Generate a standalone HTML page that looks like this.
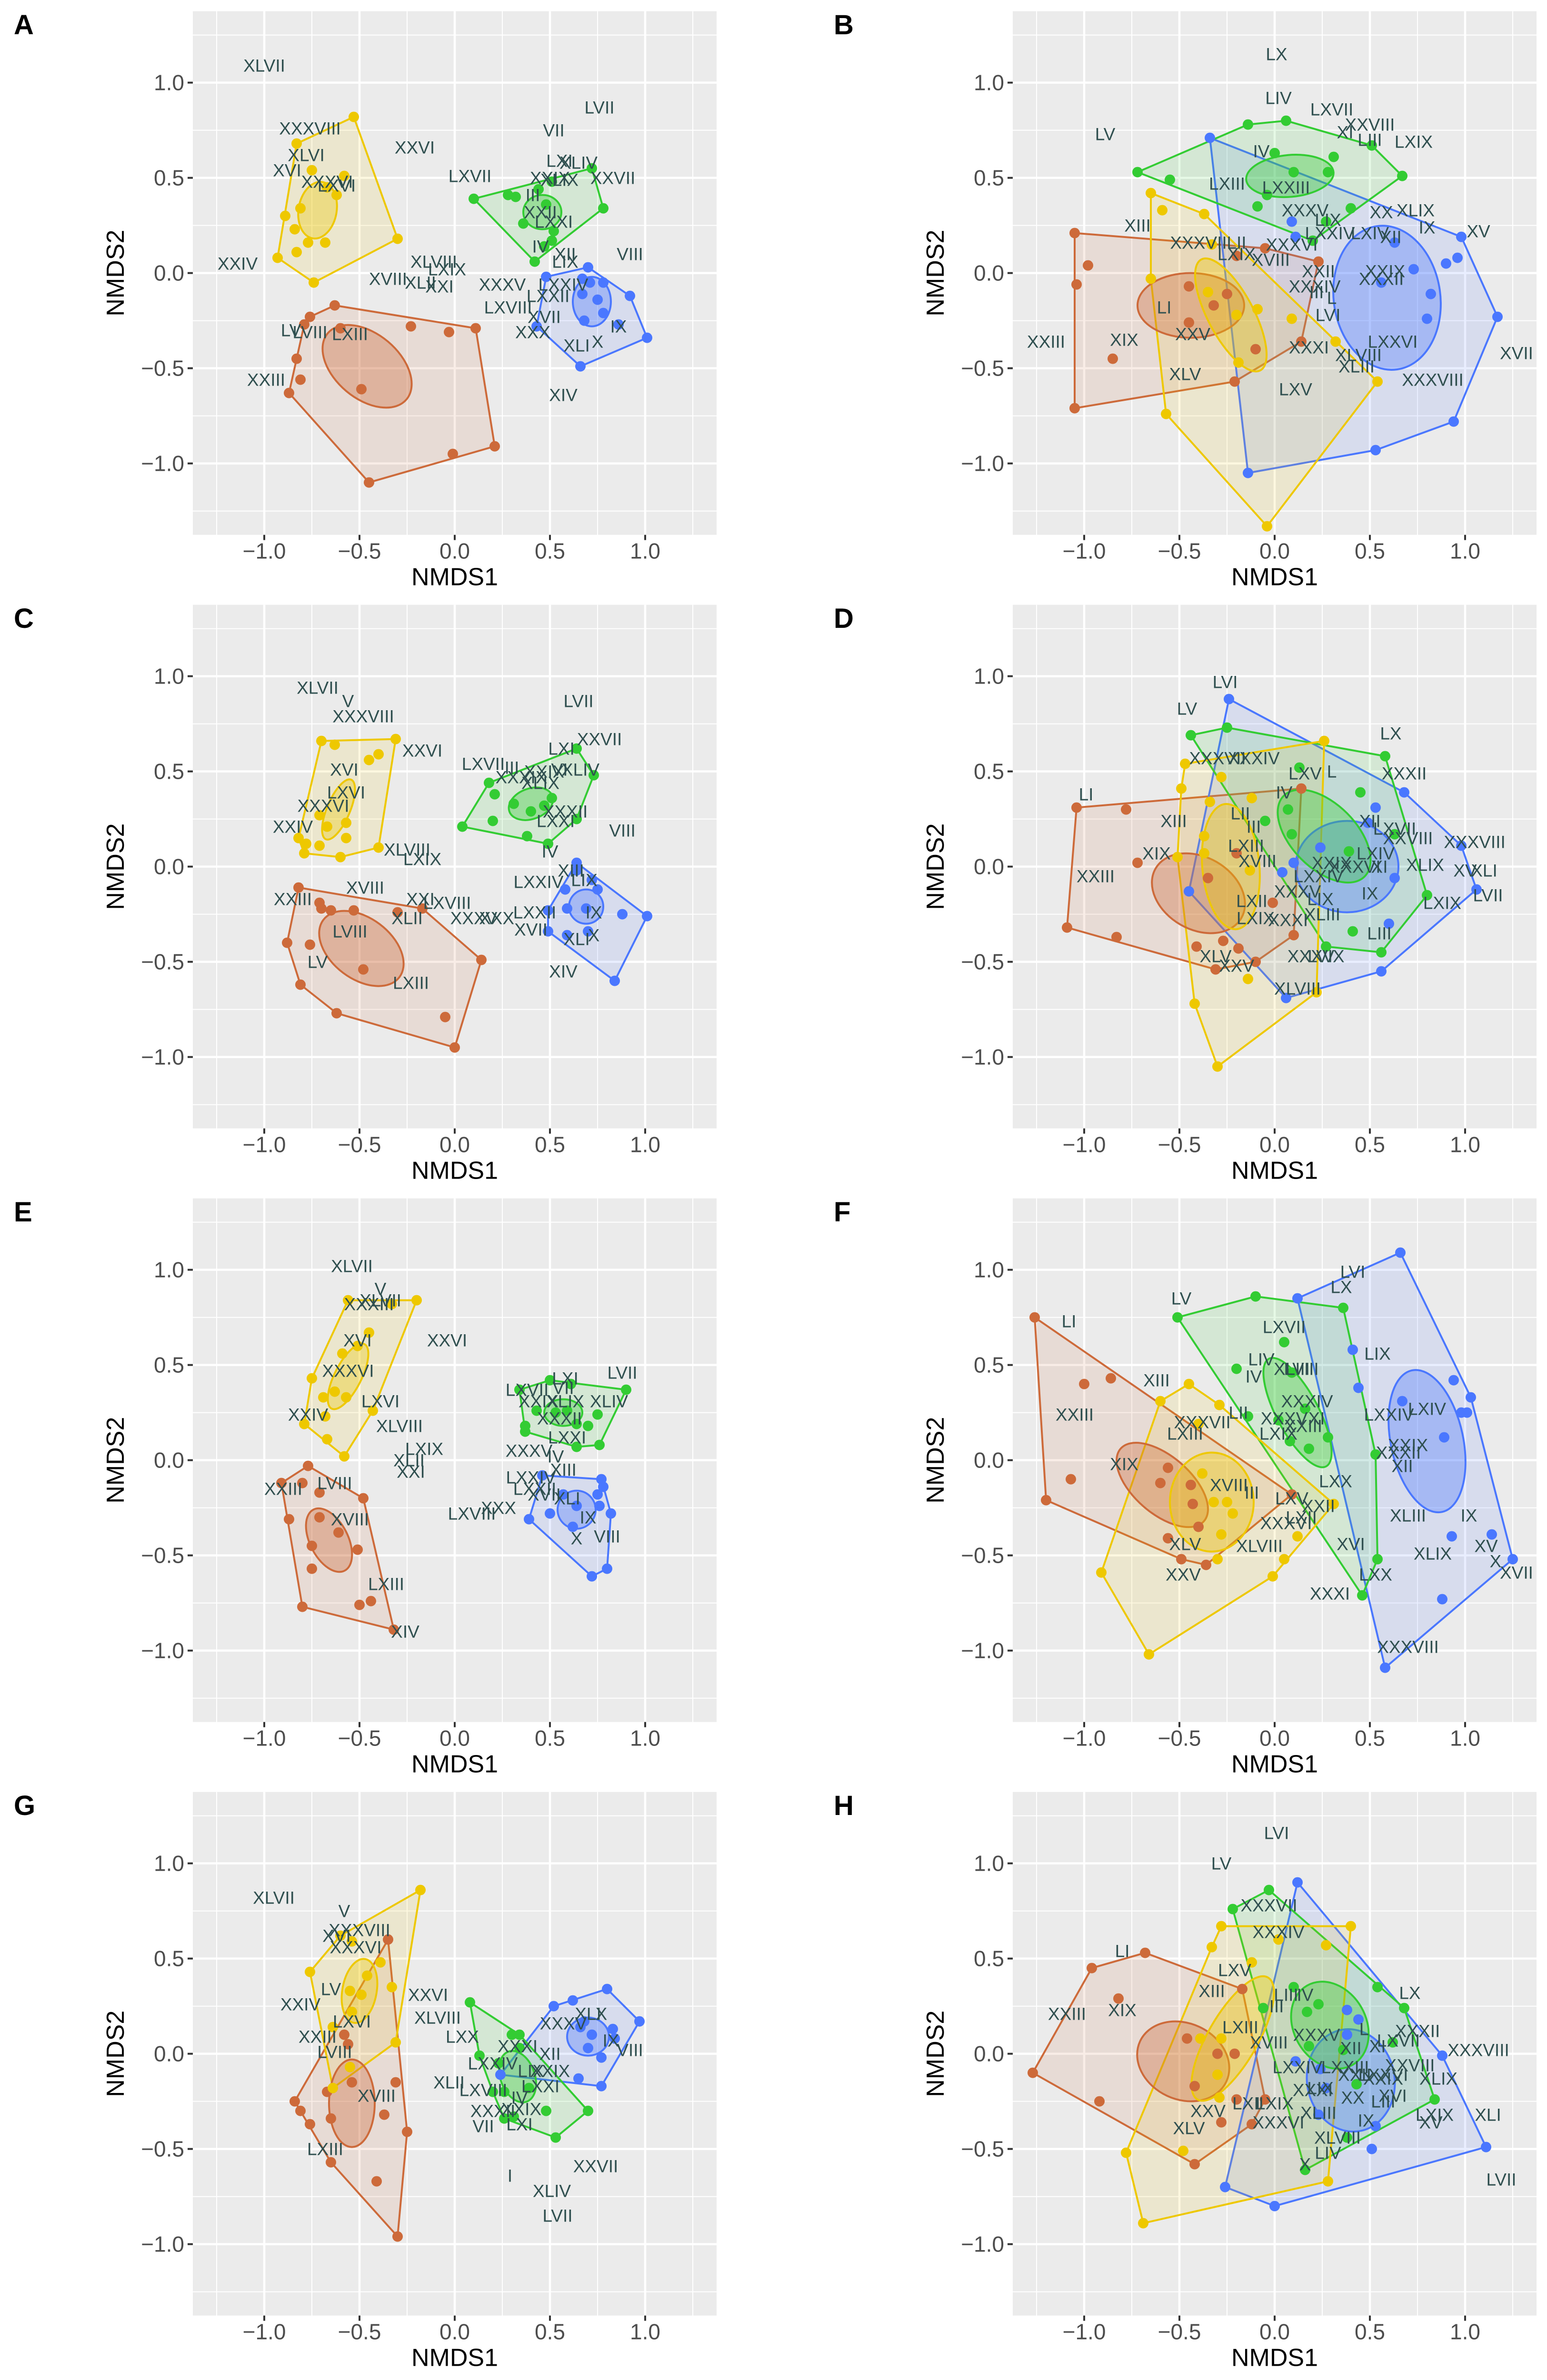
<!DOCTYPE html>
<html><head><meta charset="utf-8"><title>NMDS seasonal panels</title>
<style>
html,body{margin:0;padding:0;background:#fff;width:3249px;height:5083px;overflow:hidden;}
svg{display:block;position:absolute;left:0;top:0;font-family:"Liberation Sans",Arial,sans-serif;}
</style></head>
<body>
<svg id="fig" xmlns="http://www.w3.org/2000/svg" width="3249" height="5083" viewBox="0 0 3249 5083">
<rect x="0" y="0" width="3249" height="5083" fill="#ffffff"/>
</svg>
<script>
// ===== DATA (NMDS1, NMDS2) =====
const A_autumn=[[-0.63,-0.17],[0.11,-0.29],[0.21,-0.91],[-0.45,-1.10],[-0.87,-0.63],[-0.83,-0.45],[-0.79,-0.27],[-0.76,-0.23],[-0.60,-0.29],[-0.23,-0.28],[-0.03,-0.31],[-0.81,-0.56],[-0.49,-0.61],[-0.01,-0.95]];
const A_winter=[[0.48,-0.02],[0.70,0.03],[0.92,-0.12],[1.01,-0.34],[0.66,-0.49],[0.43,-0.28],[0.67,-0.03],[0.71,-0.05],[0.78,-0.05],[0.67,-0.11],[0.75,-0.14],[0.78,-0.21],[0.68,-0.25],[0.86,-0.27]];
const A_spring=[[0.10,0.39],[0.72,0.55],[0.78,0.34],[0.42,0.06],[0.28,0.41],[0.32,0.40],[0.48,0.36],[0.36,0.26],[0.52,0.22],[0.51,0.17],[0.47,0.14],[0.51,0.48],[0.44,0.44]];
const A_summer=[[-0.53,0.82],[-0.83,0.68],[-0.93,0.08],[-0.74,-0.05],[-0.30,0.18],[-0.75,0.54],[-0.58,0.51],[-0.62,0.41],[-0.81,0.34],[-0.89,0.30],[-0.84,0.23],[-0.77,0.16],[-0.68,0.16],[-0.83,0.11],[-0.67,0.45]];
const A_ell={autumn:[-0.46,-0.49,0.27,0.17,40],winter:[0.72,-0.15,0.10,0.13,0],spring:[0.46,0.32,0.10,0.09,0],summer:[-0.72,0.33,0.10,0.15,10]};
const A_labels=[["XLVII",-1.0,1.09],["LVII",0.76,0.87],["VII",0.52,0.75],["XXXVIII",-0.76,0.76],["XXVI",-0.21,0.66],["XLVI",-0.78,0.62],["LXI",0.55,0.59],["XLIV",0.65,0.58],["XVI",-0.88,0.54],["LXVII",0.08,0.51],["XXVII",0.83,0.50],["XXXVI",-0.67,0.48],["LXVI",-0.62,0.46],["XXIX",0.50,0.50],["XLIX",0.55,0.49],["III",0.41,0.41],["XXII",0.45,0.32],["LXXI",0.52,0.27],["IV",0.45,0.14],["XII",0.58,0.10],["LIX",0.58,0.06],["VIII",0.92,0.10],["XXIV",-1.14,0.05],["XLVIII",-0.11,0.06],["LXIX",-0.04,0.02],["XVIII",-0.35,-0.03],["XLII",-0.18,-0.05],["XXI",-0.08,-0.07],["XXXV",0.25,-0.06],["LXXIV",0.57,-0.06],["LXXII",0.49,-0.12],["LXVIII",0.28,-0.18],["XVII",0.47,-0.23],["XXX",0.41,-0.31],["LV",-0.86,-0.30],["LVIII",-0.76,-0.31],["LXIII",-0.55,-0.32],["XLI",0.64,-0.38],["X",0.75,-0.36],["IX",0.86,-0.28],["XIV",0.57,-0.64],["XXIII",-0.99,-0.56]];

const B_autumn=[[-1.05,0.21],[0.23,0.06],[0.14,-0.36],[-0.21,-0.57],[-1.05,-0.71],[-0.98,0.04],[-1.04,-0.06],[-0.85,-0.45],[-0.45,-0.07],[-0.25,-0.11],[-0.32,-0.17],[-0.45,-0.26],[-0.20,0.09],[-0.05,0.13],[-0.10,-0.40]];
const B_winter=[[-0.34,0.71],[0.98,0.19],[1.17,-0.23],[0.94,-0.78],[0.53,-0.93],[-0.14,-1.05],[0.09,0.27],[0.11,0.19],[0.63,0.16],[0.73,0.02],[0.90,0.05],[0.96,0.08],[0.82,-0.11],[0.80,-0.24],[0.56,-0.05]];
const B_spring=[[-0.72,0.53],[-0.14,0.78],[0.06,0.80],[0.51,0.67],[0.67,0.51],[0.20,0.17],[-0.55,0.49],[0.0,0.63],[0.31,0.61],[0.28,0.53],[0.10,0.53],[-0.04,0.41],[-0.09,0.35],[0.40,0.34],[0.27,0.27]];
const B_summer=[[-0.65,0.42],[-0.37,0.31],[0.54,-0.57],[-0.04,-1.33],[-0.57,-0.74],[-0.65,-0.03],[-0.59,0.33],[-0.33,0.15],[-0.35,-0.10],[-0.20,-0.22],[-0.09,-0.19],[0.09,-0.24],[0.32,-0.36],[-0.19,-0.47]];
const B_ell={autumn:[-0.44,-0.17,0.28,0.17,0],winter:[0.59,-0.13,0.28,0.38,-8],spring:[0.08,0.51,0.23,0.11,-5],summer:[-0.23,-0.22,0.33,0.12,62]};
const B_labels=[["LX",0.01,1.15],["LIV",0.02,0.92],["LXVII",0.30,0.86],["LV",-0.89,0.73],["XXVIII",0.50,0.78],["XI",0.37,0.74],["LIII",0.50,0.70],["LXIX",0.73,0.69],["IV",-0.07,0.64],["LXIII",-0.25,0.47],["LXXIII",0.06,0.45],["XXXV",0.16,0.33],["XX",0.56,0.32],["XLIX",0.74,0.33],["LIX",0.28,0.28],["XIII",-0.72,0.25],["IX",0.80,0.24],["XV",1.07,0.22],["LXXIV",0.29,0.21],["LXIV",0.50,0.21],["XII",0.61,0.19],["XXXVII",-0.40,0.16],["LII",-0.20,0.16],["XXXVI",0.09,0.15],["LXIX",-0.20,0.10],["XVIII",-0.02,0.07],["XXII",0.23,0.01],["XXIX",0.58,0.01],["XXXII",0.56,-0.03],["XXXIV",0.21,-0.07],["III",0.22,-0.10],["L",0.30,-0.13],["LI",-0.58,-0.18],["LVI",0.28,-0.22],["XXIII",-1.20,-0.36],["XIX",-0.79,-0.35],["XXV",-0.43,-0.32],["XXXI",0.18,-0.39],["LXXVI",0.62,-0.36],["XLVIII",0.44,-0.43],["XLIII",0.43,-0.49],["XLV",-0.47,-0.53],["LXV",0.11,-0.61],["XXXVIII",0.83,-0.56],["XVII",1.27,-0.42]];

const C_autumn=[[-0.82,-0.11],[-0.17,-0.22],[0.14,-0.49],[0.0,-0.95],[-0.62,-0.77],[-0.81,-0.62],[-0.88,-0.40],[-0.71,-0.19],[-0.70,-0.22],[-0.65,-0.23],[-0.53,-0.23],[-0.30,-0.24],[-0.76,-0.41],[-0.48,-0.54],[-0.05,-0.79]];
const C_winter=[[0.64,0.02],[0.75,-0.12],[1.01,-0.26],[0.84,-0.60],[0.59,-0.36],[0.49,-0.34],[0.49,-0.23],[0.64,-0.02],[0.72,-0.07],[0.58,-0.12],[0.59,-0.22],[0.69,-0.22],[0.88,-0.25],[0.70,-0.34]];
const C_spring=[[0.18,0.44],[0.64,0.62],[0.73,0.48],[0.64,0.25],[0.49,0.12],[0.04,0.21],[0.21,0.38],[0.31,0.33],[0.40,0.29],[0.47,0.32],[0.51,0.36],[0.20,0.24],[0.38,0.16]];
const C_summer=[[-0.70,0.66],[-0.31,0.67],[-0.40,0.10],[-0.60,0.05],[-0.79,0.07],[-0.82,0.15],[-0.63,0.64],[-0.45,0.56],[-0.40,0.59],[-0.71,0.27],[-0.67,0.21],[-0.57,0.23],[-0.57,0.15],[-0.71,0.11],[-0.78,0.12]];
const C_ell={autumn:[-0.49,-0.43,0.25,0.16,37],winter:[0.69,-0.21,0.09,0.09,0],spring:[0.40,0.33,0.12,0.08,-20],summer:[-0.61,0.30,0.17,0.06,-67]};
const C_labels=[["XLVII",-0.72,0.94],["V",-0.56,0.87],["XXXVIII",-0.48,0.79],["LVII",0.65,0.87],["XXVII",0.76,0.67],["LXI",0.56,0.62],["XXVI",-0.17,0.61],["LXVII",0.15,0.54],["III",0.30,0.52],["VI",0.55,0.51],["XLIV",0.66,0.51],["XXXIX",0.35,0.47],["XXIX",0.47,0.50],["XLIX",0.45,0.44],["XVI",-0.58,0.51],["LXVI",-0.57,0.39],["XXXVI",-0.69,0.32],["XXXII",0.58,0.29],["LXXI",0.53,0.24],["XXIV",-0.85,0.21],["VIII",0.88,0.19],["XLVIII",-0.25,0.09],["LXIX",-0.17,0.04],["IV",0.50,0.08],["XIII",0.61,-0.02],["LXXIV",0.44,-0.08],["LIX",0.68,-0.07],["XVIII",-0.47,-0.11],["XXIII",-0.85,-0.17],["XXI",-0.18,-0.17],["LXVIII",-0.04,-0.19],["XLII",-0.25,-0.27],["XXXV",0.10,-0.27],["XXX",0.22,-0.27],["LXXII",0.42,-0.24],["IX",0.73,-0.24],["XVII",0.40,-0.33],["XLI",0.64,-0.38],["X",0.73,-0.36],["LVIII",-0.55,-0.34],["LV",-0.72,-0.50],["LXIII",-0.23,-0.61],["XIV",0.57,-0.55]];

const D_autumn=[[-1.04,0.31],[-0.78,0.30],[0.14,0.41],[0.10,-0.36],[-0.10,-0.50],[-0.31,-0.54],[-1.09,-0.32],[-0.72,0.02],[-0.83,-0.37],[-0.41,-0.42],[-0.27,-0.39],[-0.19,-0.43],[-0.01,-0.19],[-0.20,0.07],[-0.35,-0.06]];
const D_winter=[[-0.24,0.88],[0.68,0.39],[0.98,0.11],[1.06,-0.12],[0.56,-0.55],[0.06,-0.69],[-0.45,-0.13],[0.53,0.31],[0.49,0.23],[0.24,0.10],[0.10,0.02],[0.04,-0.03],[0.63,-0.06],[0.60,-0.30]];
const D_spring=[[-0.44,0.69],[-0.25,0.73],[0.58,0.58],[0.80,-0.15],[0.56,-0.45],[0.27,-0.42],[0.13,0.52],[0.45,0.39],[0.07,0.30],[-0.05,0.24],[0.09,0.17],[0.63,0.17],[0.39,0.08],[0.41,-0.34]];
const D_summer=[[-0.47,0.54],[0.26,0.66],[0.22,-0.66],[-0.30,-1.05],[-0.42,-0.72],[-0.49,0.41],[-0.28,0.47],[-0.34,0.34],[-0.12,0.36],[-0.37,0.16],[-0.37,0.07],[-0.51,0.05],[-0.13,-0.02],[-0.14,-0.59]];
const D_ell={autumn:[-0.40,-0.14,0.26,0.19,30],winter:[0.38,0.0,0.27,0.24,0],spring:[0.26,0.16,0.30,0.17,45],summer:[-0.23,0.0,0.15,0.33,-5]};
const D_labels=[["LVI",-0.26,0.97],["LV",-0.46,0.83],["LX",0.61,0.70],["XXXVII",-0.30,0.57],["XXXIV",-0.11,0.57],["XXXII",0.68,0.49],["LXV",0.16,0.49],["L",0.30,0.50],["LI",-0.99,0.38],["IV",0.05,0.39],["XIII",-0.53,0.24],["LII",-0.18,0.28],["III",-0.11,0.21],["XII",0.50,0.24],["LXVII",0.63,0.20],["XXVIII",0.70,0.15],["XXXVIII",1.05,0.13],["LXIII",-0.15,0.11],["XIX",-0.62,0.07],["XVIII",-0.09,0.03],["LXIV",0.53,0.07],["XXIX",0.30,0.02],["XXXVI",0.42,0.0],["XI",0.55,0.0],["XLIX",0.79,0.01],["XV",1.0,-0.02],["XLI",1.10,-0.02],["XXIII",-0.94,-0.05],["LXXIV",0.23,-0.05],["XXXV",0.12,-0.13],["IX",0.50,-0.14],["LIX",0.24,-0.17],["LXII",-0.12,-0.18],["LXIX",0.88,-0.19],["LVII",1.12,-0.15],["XLIII",0.25,-0.25],["LXIX",-0.10,-0.27],["XXXI",0.07,-0.28],["LIII",0.55,-0.35],["XLV",-0.31,-0.47],["XXXV",0.19,-0.47],["LVIX",0.27,-0.47],["XXV",-0.20,-0.52],["XLVIII",0.12,-0.64]];

const E_autumn=[[-0.77,-0.03],[-0.48,-0.20],[-0.32,-0.89],[-0.80,-0.77],[-0.87,-0.31],[-0.91,-0.12],[-0.80,-0.12],[-0.71,-0.17],[-0.71,-0.30],[-0.61,-0.38],[-0.75,-0.45],[-0.51,-0.47],[-0.75,-0.57],[-0.50,-0.76],[-0.44,-0.74]];
const E_winter=[[0.46,-0.08],[0.77,-0.10],[0.78,-0.14],[0.82,-0.28],[0.80,-0.57],[0.72,-0.61],[0.39,-0.31],[0.50,-0.28],[0.57,-0.18],[0.64,-0.24],[0.75,-0.18],[0.76,-0.24],[0.62,-0.35]];
const E_spring=[[0.34,0.37],[0.50,0.42],[0.61,0.40],[0.90,0.37],[0.76,0.08],[0.64,0.07],[0.37,0.15],[0.37,0.18],[0.43,0.26],[0.53,0.25],[0.64,0.19],[0.70,0.18],[0.75,0.24],[0.59,0.26]];
const E_summer=[[-0.56,0.84],[-0.20,0.84],[-0.43,0.26],[-0.58,0.02],[-0.79,0.19],[-0.75,0.43],[-0.33,0.82],[-0.45,0.67],[-0.51,0.60],[-0.59,0.56],[-0.63,0.36],[-0.69,0.33],[-0.57,0.33],[-0.68,0.23],[-0.67,0.11]];
const E_ell={autumn:[-0.66,-0.42,0.18,0.10,63],winter:[0.64,-0.26,0.10,0.10,0],spring:[0.57,0.25,0.10,0.07,0],summer:[-0.56,0.44,0.19,0.07,-63]};
const E_labels=[["XLVII",-0.54,1.02],["V",-0.39,0.90],["XLVII",-0.39,0.84],["XXXIII",-0.45,0.82],["XXVI",-0.04,0.63],["XVI",-0.51,0.63],["XXXVI",-0.56,0.47],["LVII",0.88,0.46],["LXI",0.58,0.43],["LXVII",0.38,0.37],["VII",0.57,0.38],["LXVI",-0.39,0.31],["XXIX",0.44,0.31],["XLIX",0.58,0.31],["XLIV",0.81,0.31],["XXXII",0.55,0.22],["XXIV",-0.77,0.24],["XLVIII",-0.29,0.18],["LXXI",0.59,0.12],["LXIX",-0.16,0.06],["XXXV",0.39,0.05],["IV",0.53,0.02],["XLII",-0.24,0.0],["XXI",-0.23,-0.06],["XIII",0.57,-0.05],["LXXIV",0.40,-0.09],["LXXII",0.42,-0.15],["LVIII",-0.63,-0.12],["XXIII",-0.90,-0.15],["XVII",0.47,-0.18],["XLI",0.59,-0.20],["XXX",0.23,-0.25],["LXVIII",0.09,-0.28],["IX",0.70,-0.30],["XVIII",-0.55,-0.31],["X",0.64,-0.41],["VIII",0.80,-0.40],["LXIII",-0.36,-0.65],["XIV",-0.26,-0.90]];

const F_autumn=[[-1.26,0.75],[0.09,-0.18],[-0.36,-0.55],[-0.49,-0.52],[-1.20,-0.21],[-1.0,0.40],[-0.86,0.43],[-1.07,-0.10],[-0.60,-0.12],[-0.44,-0.13],[-0.43,-0.23],[-0.40,-0.35],[-0.56,-0.41],[-0.56,-0.04]];
const F_winter=[[0.12,0.85],[0.66,1.09],[1.25,-0.52],[0.58,-1.09],[0.41,0.58],[0.44,0.38],[0.67,0.31],[0.94,0.42],[1.03,0.33],[0.98,0.25],[1.01,0.25],[0.89,0.12],[0.93,-0.40],[1.14,-0.39],[0.88,-0.73]];
const F_spring=[[-0.51,0.75],[-0.10,0.86],[0.36,0.80],[0.53,0.03],[0.54,-0.52],[0.46,-0.71],[0.05,0.62],[-0.20,0.48],[-0.14,0.23],[0.02,0.21],[0.16,0.27],[0.08,0.10],[0.18,0.06],[0.28,0.12],[0.09,0.46]];
const F_summer=[[-0.45,0.40],[0.31,-0.23],[0.05,-0.52],[-0.01,-0.61],[-0.66,-1.02],[-0.91,-0.59],[-0.60,0.31],[-0.29,0.29],[-0.40,0.19],[-0.38,-0.07],[-0.32,-0.22],[-0.25,-0.22],[-0.22,-0.28],[-0.28,-0.39],[-0.30,-0.52],[0.12,-0.40]];
const F_ell={autumn:[-0.59,-0.13,0.29,0.15,41],winter:[0.80,0.10,0.19,0.38,-12],spring:[0.12,0.25,0.32,0.11,62],summer:[-0.33,-0.22,0.22,0.26,0]};
const F_labels=[["LVI",0.41,0.99],["LX",0.35,0.91],["LV",-0.49,0.85],["LI",-1.08,0.73],["LXVII",0.05,0.70],["LIX",0.54,0.56],["LIV",-0.07,0.53],["XLIII",0.09,0.48],["LVIII",0.14,0.48],["IV",-0.11,0.44],["XIII",-0.62,0.42],["XXXIV",0.17,0.31],["LXIV",0.80,0.27],["XXIII",-1.05,0.24],["LXXIV",0.60,0.24],["LII",-0.19,0.25],["XXXV",0.05,0.22],["XXXVII",-0.38,0.20],["XI",0.22,0.22],["LXIII",-0.47,0.14],["LXIX",0.02,0.14],["XXIII",0.15,0.18],["XXIX",0.70,0.08],["XXXII",0.65,0.04],["XII",0.67,-0.03],["XIX",-0.79,-0.02],["LXX",0.32,-0.11],["XVIII",-0.24,-0.13],["III",-0.12,-0.17],["LXV",0.09,-0.20],["XXII",0.23,-0.24],["XLIII",0.70,-0.29],["IX",1.02,-0.29],["LXII",0.14,-0.30],["XXXVI",0.06,-0.33],["XLV",-0.47,-0.44],["XLVIII",-0.08,-0.45],["XVI",0.40,-0.44],["XV",1.11,-0.45],["XLIX",0.83,-0.49],["X",1.16,-0.53],["XXV",-0.48,-0.60],["LXX",0.53,-0.60],["XVII",1.27,-0.59],["XXXI",0.29,-0.70],["XXXVIII",0.70,-0.98]];

const G_autumn=[[-0.35,0.60],[-0.25,-0.41],[-0.30,-0.96],[-0.65,-0.57],[-0.84,-0.25],[-0.58,0.10],[-0.56,0.05],[-0.67,-0.20],[-0.54,-0.15],[-0.31,-0.15],[-0.81,-0.30],[-0.76,-0.37],[-0.65,-0.34],[-0.37,-0.32],[-0.41,-0.67]];
const G_winter=[[0.80,0.34],[0.97,0.17],[0.77,-0.17],[0.24,-0.11],[0.52,0.25],[0.62,0.28],[0.66,0.14],[0.68,0.17],[0.72,0.10],[0.83,0.13],[0.70,0.03],[0.77,-0.02],[0.84,0.08],[0.65,-0.13]];
const G_spring=[[0.08,0.27],[0.34,0.10],[0.70,-0.30],[0.53,-0.44],[0.26,-0.34],[0.13,-0.01],[0.30,0.10],[0.34,0.03],[0.23,-0.05],[0.39,-0.18],[0.26,-0.20],[0.20,-0.20],[0.48,-0.30],[0.31,-0.33]];
const G_summer=[[-0.18,0.86],[-0.31,0.06],[-0.64,-0.18],[-0.76,0.43],[-0.60,0.62],[-0.54,0.59],[-0.39,0.48],[-0.46,0.41],[-0.55,0.33],[-0.49,0.31],[-0.33,0.35],[-0.54,0.22],[-0.64,0.14],[-0.55,-0.07]];
const G_ell={autumn:[-0.54,-0.26,0.12,0.23,0],winter:[0.70,0.09,0.11,0.10,0],spring:[0.33,-0.12,0.09,0.14,-20],summer:[-0.50,0.33,0.09,0.17,10]};
const G_labels=[["XLVII",-0.95,0.82],["V",-0.58,0.75],["XXXVIII",-0.50,0.65],["XVI",-0.62,0.62],["XXXVI",-0.52,0.56],["LV",-0.65,0.34],["XXVI",-0.14,0.31],["XXIV",-0.81,0.26],["XLVIII",-0.09,0.19],["XLI",0.70,0.21],["X",0.77,0.21],["XXXV",0.57,0.16],["LXVI",-0.54,0.17],["XXIII",-0.72,0.09],["LXX",0.04,0.09],["XXXI",0.33,0.04],["IX",0.82,0.07],["VIII",0.92,0.02],["LVIII",-0.63,0.01],["XII",0.50,0.0],["LXXIV",0.20,-0.05],["LIX",0.40,-0.09],["XXIX",0.50,-0.09],["XLII",-0.03,-0.15],["LXVIII",0.15,-0.19],["LXXI",0.45,-0.17],["XVIII",-0.41,-0.22],["IV",0.34,-0.23],["XXIX",0.35,-0.29],["XXXII",0.20,-0.30],["VII",0.15,-0.38],["LXI",0.34,-0.37],["LXIII",-0.68,-0.50],["XXVII",0.74,-0.59],["I",0.29,-0.64],["XLIV",0.51,-0.72],["LVII",0.54,-0.85]];

const H_autumn=[[-1.27,-0.10],[-0.96,0.45],[-0.68,0.53],[-0.17,0.34],[-0.05,-0.24],[-0.12,-0.37],[-0.42,-0.58],[-0.82,0.29],[-0.92,-0.25],[-0.46,0.08],[-0.30,0.0],[-0.21,0.0],[-0.42,-0.17],[-0.20,-0.24],[-0.28,-0.36]];
const H_winter=[[0.12,0.90],[0.88,-0.01],[1.11,-0.49],[0.0,-0.80],[-0.26,-0.70],[0.38,0.23],[0.44,0.18],[0.38,0.10],[0.11,-0.04],[0.24,-0.08],[0.27,-0.18],[0.23,-0.32],[0.53,-0.38],[0.51,-0.50]];
const H_spring=[[-0.22,0.76],[-0.03,0.86],[0.54,0.35],[0.68,0.24],[0.84,-0.24],[0.16,-0.61],[0.10,0.35],[0.17,0.22],[0.23,0.26],[-0.06,0.24],[0.18,0.04],[0.36,0.02],[0.62,0.06],[0.43,-0.16],[0.38,-0.44]];
const H_summer=[[-0.28,0.67],[0.40,0.67],[0.28,-0.67],[-0.69,-0.89],[-0.78,-0.52],[-0.33,0.56],[0.02,0.60],[0.27,0.57],[-0.12,0.48],[-0.28,0.08],[-0.39,0.08],[-0.30,-0.11],[-0.29,-0.23],[-0.48,-0.51]];
const H_ell={autumn:[-0.48,-0.04,0.25,0.20,25],winter:[0.40,-0.14,0.23,0.27,-10],spring:[0.29,0.15,0.19,0.24,-30],summer:[-0.22,0.08,0.37,0.13,-60]};
const H_labels=[["LVI",0.01,1.16],["LV",-0.28,1.0],["XXXVII",-0.03,0.78],["XXXIV",0.02,0.64],["LI",-0.80,0.54],["LXV",-0.21,0.44],["XIII",-0.33,0.33],["LIII",0.06,0.31],["IV",0.16,0.31],["LX",0.71,0.32],["XXIII",-1.09,0.21],["XIX",-0.80,0.23],["III",0.01,0.25],["XXXII",0.75,0.12],["LXIII",-0.18,0.14],["XXXV",0.22,0.10],["L",0.47,0.13],["XVIII",-0.03,0.06],["LXVII",0.65,0.07],["XII",0.40,0.03],["XI",0.54,0.04],["XXXVIII",1.07,0.02],["LXXIV",0.12,-0.07],["LXXIII",0.37,-0.07],["XXVIII",0.71,-0.06],["XXII",0.42,-0.11],["LXXVI",0.57,-0.11],["XXIX",0.57,-0.13],["XLIX",0.86,-0.13],["XXXI",0.20,-0.19],["LIX",0.24,-0.18],["XX",0.41,-0.23],["XVI",0.62,-0.22],["LIII",0.57,-0.25],["LXII",-0.14,-0.26],["LXIX",0.00,-0.26],["XXV",-0.35,-0.30],["XLIII",0.23,-0.31],["IX",0.48,-0.35],["LXIX",0.84,-0.32],["XLI",1.12,-0.32],["XV",0.82,-0.36],["XXXVI",0.02,-0.36],["XLV",-0.45,-0.39],["XLVIII",0.33,-0.44],["LIV",0.28,-0.52],["X",0.16,-0.58],["LVII",1.19,-0.66]];

const seasons=["autumn","winter","spring","summer"];
const seasonColors={autumn:"#CD6A3A",winter:"#4A77FF",spring:"#33CC33",summer:"#EEC800"};
const tickValues=[-1.0,-0.5,0.0,0.5,1.0];
const tickLabels=["\u22121.0","\u22120.5","0.0","0.5","1.0"];
const minorValues=[-1.25,-0.75,-0.25,0.25,0.75,1.25];

// ===== RENDER =====
const NS="http://www.w3.org/2000/svg";
const svg=document.getElementById("fig");
function mk(tag,attrs,parent){const e=document.createElementNS(NS,tag);for(const k in attrs)e.setAttribute(k,attrs[k]);(parent||svg).appendChild(e);return e;}
function hull(pts){
  const p=pts.slice().sort((a,b)=>a[0]-b[0]||a[1]-b[1]);
  const cr=(o,a,b)=>(a[0]-o[0])*(b[1]-o[1])-(a[1]-o[1])*(b[0]-o[0]);
  const lo=[],up=[];
  for(const q of p){while(lo.length>=2&&cr(lo[lo.length-2],lo[lo.length-1],q)<=0)lo.pop();lo.push(q);}
  for(let i=p.length-1;i>=0;i--){const q=p[i];while(up.length>=2&&cr(up[up.length-2],up[up.length-1],q)<=0)up.pop();up.push(q);}
  up.pop();lo.pop();return lo.concat(up);
}
const panels=[
 {id:"A",pts:{autumn:A_autumn,winter:A_winter,spring:A_spring,summer:A_summer},ell:A_ell,labels:A_labels},
 {id:"B",pts:{autumn:B_autumn,winter:B_winter,spring:B_spring,summer:B_summer},ell:B_ell,labels:B_labels},
 {id:"C",pts:{autumn:C_autumn,winter:C_winter,spring:C_spring,summer:C_summer},ell:C_ell,labels:C_labels},
 {id:"D",pts:{autumn:D_autumn,winter:D_winter,spring:D_spring,summer:D_summer},ell:D_ell,labels:D_labels},
 {id:"E",pts:{autumn:E_autumn,winter:E_winter,spring:E_spring,summer:E_summer},ell:E_ell,labels:E_labels},
 {id:"F",pts:{autumn:F_autumn,winter:F_winter,spring:F_spring,summer:F_summer},ell:F_ell,labels:F_labels},
 {id:"G",pts:{autumn:G_autumn,winter:G_winter,spring:G_spring,summer:G_summer},ell:G_ell,labels:G_labels},
 {id:"H",pts:{autumn:H_autumn,winter:H_winter,spring:H_spring,summer:H_summer},ell:H_ell,labels:H_labels}
];
const LIM=1.375, SX=400, SY=400;
panels.forEach((pn,idx)=>{
  const col=idx%2,row=Math.floor(idx/2);
  const ox=col?2677:955, oy=573.6+1247*row;
  const X=v=>ox+v*SX, Y=v=>oy-v*SY;
  const g=mk("g",{});
  
  
  const L=X(-LIM),R=X(LIM),T=Y(LIM),B=Y(-LIM);
  const bg=mk("rect",{x:L,y:T,width:R-L,height:B-T,fill:"#EBEBEB"},g);
  
  
  minorValues.forEach(v=>{
    mk("line",{x1:X(v),x2:X(v),y1:T,y2:B,stroke:"#fff","stroke-width":2},g);
    mk("line",{x1:L,x2:R,y1:Y(v),y2:Y(v),stroke:"#fff","stroke-width":2},g);
  });
  tickValues.forEach((v,i)=>{
    const gx=mk("line",{x1:X(v),x2:X(v),y1:T,y2:B,stroke:"#fff","stroke-width":4.5},g);
    
    
    const gy=mk("line",{x1:L,x2:R,y1:Y(v),y2:Y(v),stroke:"#fff","stroke-width":4.5},g);
    
    
    mk("line",{x1:L-11,x2:L,y1:Y(v),y2:Y(v),stroke:"#333","stroke-width":4},g);
    mk("line",{x1:X(v),x2:X(v),y1:B,y2:B+11,stroke:"#333","stroke-width":4},g);
    const ty=mk("text",{x:L-18,y:Y(v)+16,"text-anchor":"end","font-size":46,fill:"#4D4D4D"},g);
    ty.textContent=tickLabels[i];
    
    
    const tx=mk("text",{x:X(v),y:B+50,"text-anchor":"middle","font-size":46,fill:"#4D4D4D"},g);
    tx.textContent=tickLabels[i];
    
    
  });
  const xt=mk("text",{x:X(0),y:B+106,"text-anchor":"middle","font-size":52,fill:"#000"},g);
  xt.textContent="NMDS1";
  
  
  const yx=L-145;
  const yt=mk("text",{x:yx,y:Y(0),"text-anchor":"middle","font-size":52,fill:"#000",transform:"rotate(-90 "+yx+" "+Y(0)+")"},g);
  yt.textContent="NMDS2";
  
  
  const pl=mk("text",{x:col?1751:29,y:72+1247*row,"font-size":58,"font-weight":"bold",fill:"#000"},g);
  pl.textContent=pn.id;
  
  
  seasons.forEach(s=>{
    const h=hull(pn.pts[s]).map(p=>X(p[0]).toFixed(1)+","+Y(p[1]).toFixed(1)).join(" ");
    const poly=mk("polygon",{points:h,fill:seasonColors[s],"fill-opacity":0.12,stroke:seasonColors[s],"stroke-width":4,"stroke-linejoin":"round"},g);
    
    
  });
  seasons.forEach(s=>{
    const e=pn.ell[s];
    const el=mk("ellipse",{cx:X(e[0]),cy:Y(e[1]),rx:e[2]*SX,ry:e[3]*SY,fill:seasonColors[s],"fill-opacity":0.35,stroke:seasonColors[s],"stroke-width":4,transform:"rotate("+e[4]+" "+X(e[0])+" "+Y(e[1])+")"},g);
    
    
  });
  seasons.forEach(s=>{
    pn.pts[s].forEach(p=>{
      const c=mk("circle",{cx:X(p[0]),cy:Y(p[1]),r:11,fill:seasonColors[s]},g);
      
      
    });
  });
  pn.labels.forEach(l=>{
    const t=mk("text",{x:X(l[1]),y:Y(l[2])+13,"text-anchor":"middle","font-size":37,fill:"#2F4F4F"},g);
    t.textContent=l[0];
    
    
  });
});
const legendX=[1248,1506,1732,1960];
const lg=mk("g",{});


seasons.forEach((s,i)=>{
  const x=legendX[i];
  const ent=mk("g",{},lg);
  
  
  mk("rect",{x:x,y:5013,width:57,height:56,fill:"#EBEBEB"},ent);
  mk("rect",{x:x+3,y:5016,width:51,height:50,fill:seasonColors[s],"fill-opacity":0.35,stroke:seasonColors[s],"stroke-width":6},ent);
  mk("circle",{cx:x+28.5,cy:5041,r:9,fill:seasonColors[s]},ent);
  const t=mk("text",{x:x+76,y:5058,"font-size":48,fill:"#000"},ent);
  t.textContent=s;
});
</script>
</body></html>
